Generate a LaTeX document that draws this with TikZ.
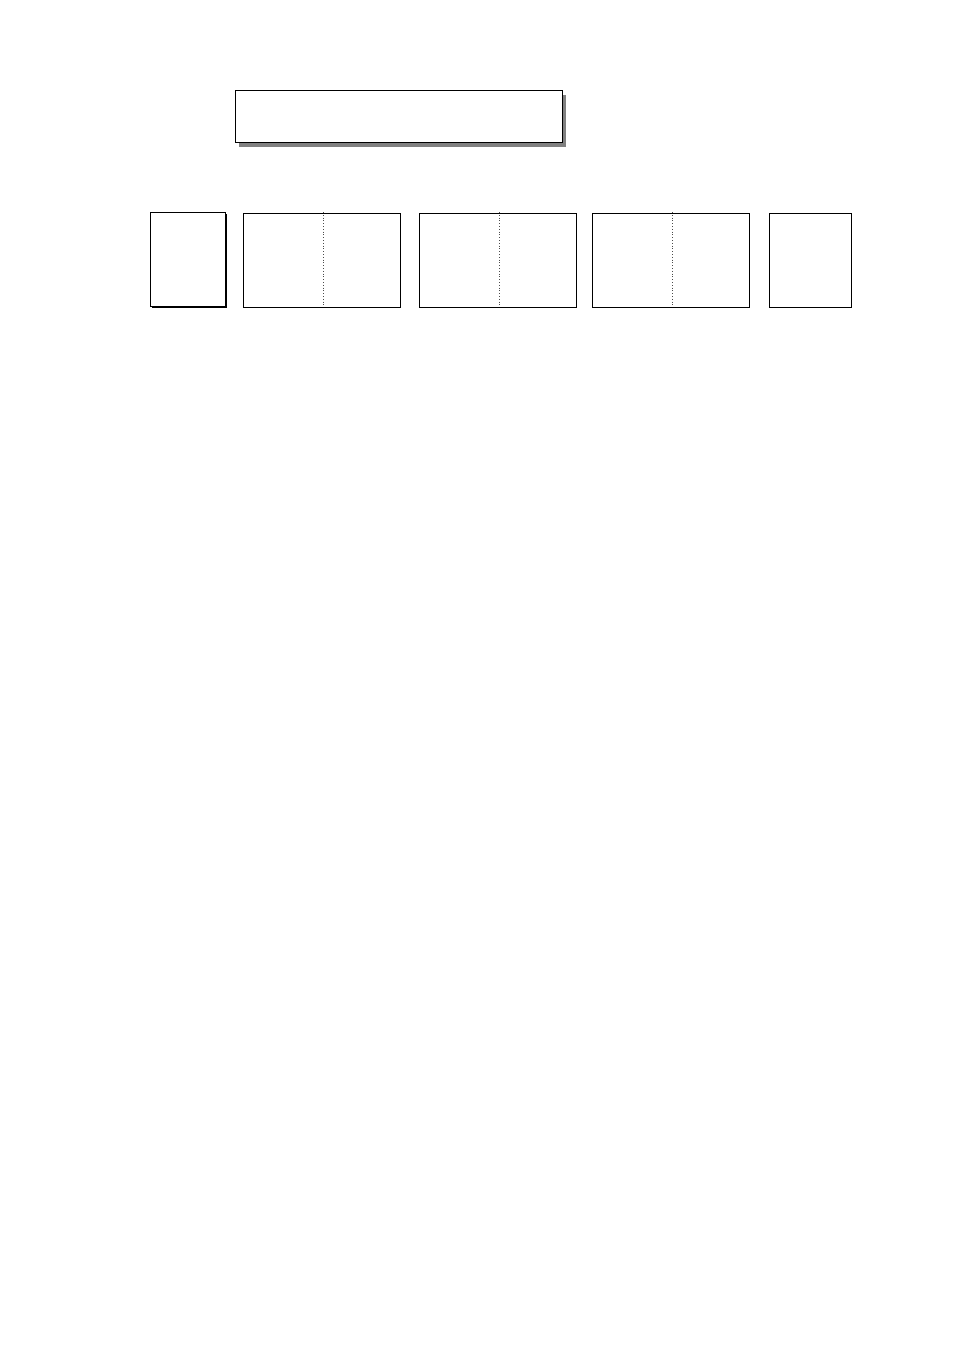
\documentclass[tikz,border=0pt]{standalone}
\usetikzlibrary{shadows}
\begin{document}
\begin{tikzpicture}[x=1pt,y=-1pt,
  box/.style={draw=black, fill=white, line width=1pt, inner sep=0pt, outer sep=0pt, anchor=north west},
  divider/.style={draw=black!70, dotted, line width=0.8pt},
  gshadow/.style={drop shadow={shadow xshift=4pt, shadow yshift=-4pt, fill=black!50, opacity=1}},
  kshadow/.style={drop shadow={shadow xshift=1.5pt, shadow yshift=-1.5pt, fill=black, opacity=1}}]
\useasboundingbox (0,0) rectangle (954,1351);
\node[box, gshadow, minimum width=327pt, minimum height=52pt] (title) at (235,91) {};
\node[box, kshadow, minimum width=75.5pt, minimum height=94.5pt] (b1) at (150,212) {};
\node[box, minimum width=157pt, minimum height=94pt] (b2) at (243,213) {};
\node[box, minimum width=157pt, minimum height=94pt] (b3) at (419,213) {};
\node[box, minimum width=157pt, minimum height=94pt] (b4) at (592,213) {};
\node[box, minimum width=82pt, minimum height=94pt] (b5) at (769,213) {};
\coordinate (d2t) at (323,212); \coordinate (d2b) at (323,307);
\coordinate (d3t) at (499,212); \coordinate (d3b) at (499,307);
\coordinate (d4t) at (672,212); \coordinate (d4b) at (672,307);
\draw[divider] (d2t) -- (d2b);
\draw[divider] (d3t) -- (d3b);
\draw[divider] (d4t) -- (d4b);
\end{tikzpicture}
\end{document}
